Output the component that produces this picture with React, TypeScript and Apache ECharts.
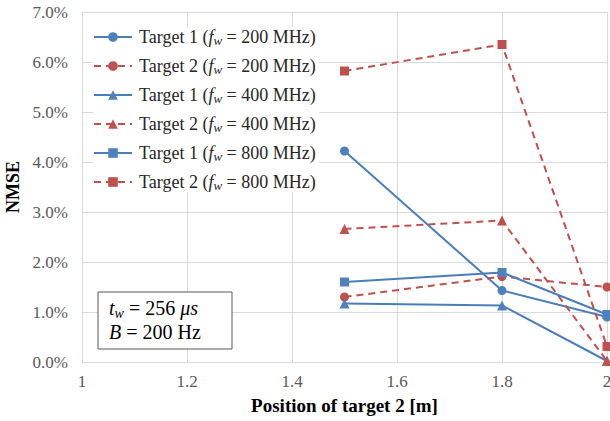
import React, { useEffect, useRef } from "react";
import * as echarts from "echarts";

const xPositions = [1.5, 1.8, 2.0];
const target1_200 = [4.22, 1.43, 0.9];
const target2_200 = [1.3, 1.71, 1.5];
const target1_400 = [1.17, 1.13, 0.02];
const target2_400 = [2.66, 2.83, 0.02];
const target1_800 = [1.6, 1.79, 0.95];
const target2_800 = [5.82, 6.35, 0.31];

const seriesTargets = ["1", "2", "1", "2", "1", "2"];
const seriesFreqs = ["200", "200", "400", "400", "800", "800"];
const seriesSymbols = ["circle", "circle", "triangle", "triangle", "rect", "rect"];
const seriesValues = [target1_200, target2_200, target1_400, target2_400, target1_800, target2_800];

const BLUE = "#4A7EBB";
const BLUE_FILL = "#4F81BD";
const RED = "#C0504D";
const SERIF = "Liberation Serif";

export default function App() {
  const ref = useRef<HTMLDivElement>(null);
  useEffect(() => {
    if (!ref.current) return;
    const chart = echarts.init(ref.current, undefined, { renderer: "svg" });
    const names = seriesTargets.map((t, i) => `Target ${t} (f_w = ${seriesFreqs[i]} MHz)`);
    const series = seriesValues.map((vals, i) => {
      const isT1 = seriesTargets[i] === "1";
      const color = isT1 ? BLUE : RED;
      return {
        name: names[i],
        type: "line",
        data: vals.map((v, k) => [xPositions[k], v]),
        symbol: seriesSymbols[i],
        symbolSize: seriesSymbols[i] === "triangle" ? 10 : 9,
        lineStyle: { color, width: 2, type: isT1 ? "solid" : [7, 5] },
        itemStyle: { color: isT1 ? BLUE_FILL : RED, borderWidth: 0 },
        showSymbol: true,
        z: 3,
      };
    });
    const richBase = {
      f: { fontFamily: SERIF, fontSize: 18, color: "#262626", lineHeight: 20, padding: [0, 0, 0, 2] },
      n: { fontFamily: SERIF, fontSize: 18, color: "#262626", lineHeight: 20 },
      i: { fontFamily: SERIF, fontSize: 18, fontStyle: "italic", color: "#262626", lineHeight: 20 },
      s: { fontFamily: SERIF, fontSize: 13, fontStyle: "italic", color: "#262626", lineHeight: 10, verticalAlign: "bottom" },
    };
    chart.setOption({
      animation: false,
      backgroundColor: "#ffffff",
      textStyle: { fontFamily: SERIF },
      grid: { left: 82, right: 3, top: 12, bottom: 59, containLabel: false, outerBoundsMode: "none" },
      legend: {
        orient: "vertical",
        left: 93,
        top: 27,
        padding: [0, 3, 0, 0],
        itemGap: 9,
        itemWidth: 38,
        itemHeight: 12,
        backgroundColor: "#ffffff",
        data: names,
        formatter: (name: string) => {
          const idx = names.indexOf(name);
          return `{f|Target ${seriesTargets[idx]} (}{i|f}{s|w}{n| = ${seriesFreqs[idx]} MHz)}`;
        },
        textStyle: { fontFamily: SERIF, rich: richBase, lineHeight: 20 },
      },
      xAxis: {
        type: "value",
        min: 1,
        max: 2,
        interval: 0.2,
        name: "Position of target 2 [m]",
        nameLocation: "middle",
        nameGap: 34,
        nameTextStyle: { fontFamily: SERIF, fontSize: 19, fontWeight: "bold", color: "#000" },
        axisLine: { show: false },
        axisTick: { show: false },
        axisLabel: {
          margin: 11,
          fontFamily: SERIF,
          fontSize: 17,
          color: "#595959",
          alignMinLabel: "center",
          alignMaxLabel: "center",
          hideOverlap: false,
          formatter: (v: number) => String(parseFloat(v.toFixed(1))),
        },
        splitLine: { show: true, lineStyle: { color: "#d9d9d9", width: 1 } },
      },
      yAxis: {
        type: "value",
        min: 0,
        max: 7,
        interval: 1,
        name: "NMSE",
        nameLocation: "middle",
        nameGap: 56,
        nameTextStyle: { fontFamily: SERIF, fontSize: 18, fontWeight: "bold", color: "#000" },
        axisLine: { show: false },
        axisTick: { show: false },
        axisLabel: {
          margin: 14,
          fontFamily: SERIF,
          fontSize: 17,
          color: "#595959",
          formatter: (v: number) => v.toFixed(1) + "%",
        },
        splitLine: { show: true, lineStyle: { color: "#d9d9d9", width: 1 } },
      },
      graphic: [
        {
          type: "rect",
          z: 100,
          shape: { x: 98, y: 292, width: 134, height: 57 },
          style: { fill: "#ffffff", stroke: "#595959", lineWidth: 1 },
        },
        {
          type: "text",
          z: 101,
          x: 109,
          y: 296,
          style: {
            text: "{i|t}{s|w}{n| = 256 }{i|μs}\n{i|B}{n| = 200 Hz}",
            rich: {
              n: { fontFamily: SERIF, fontSize: 20, color: "#262626", lineHeight: 24 },
              i: { fontFamily: SERIF, fontSize: 20, fontStyle: "italic", color: "#262626", lineHeight: 24 },
              s: { fontFamily: SERIF, fontSize: 14, fontStyle: "italic", color: "#262626", lineHeight: 12, verticalAlign: "bottom" },
            },
          },
        },
      ],
      series,
    });
    return () => chart.dispose();
  }, []);
  return <div ref={ref} style={{ position: "absolute", left: 0, top: 0, width: 610, height: 421 }} />;
}
